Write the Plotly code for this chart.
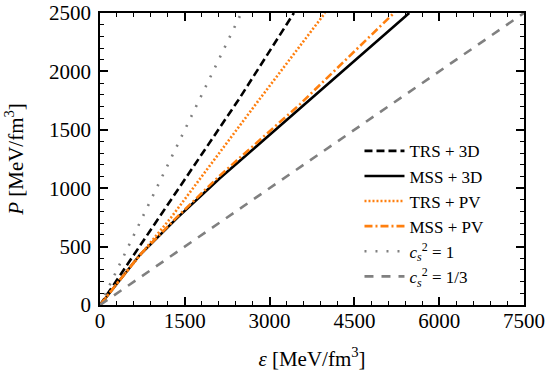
import plotly.graph_objects as go

# Data
eps_trs_3d = [0, 300, 1062, 2448, 3430]
p_trs_3d = [0, 215, 756, 1755, 2500]

eps_mss_3d = [0, 300, 703, 1357, 2124, 3540, 5470]
p_mss_3d = [0, 185, 428, 742, 1087, 1684, 2500]

eps_trs_pv = [0, 300, 1251, 2780, 3980]
p_trs_pv = [0, 185, 745, 1735, 2500]

eps_mss_pv = [0, 300, 703, 1357, 2124, 3540, 5200]
p_mss_pv = [0, 185, 428, 750, 1110, 1720, 2500]

eps_cs1 = [0, 2500]
p_cs1 = [0, 2500]

eps_cs13 = [0, 7500]
p_cs13 = [0, 2500]

x_ticks = [0, 1500, 3000, 4500, 6000, 7500]
y_ticks = [0, 500, 1000, 1500, 2000, 2500]

ORANGE = "#ff7f0e"
GRAY = "#808080"
FONT = "Liberation Serif"

fig = go.Figure()
fig.add_trace(go.Scatter(x=eps_trs_3d, y=p_trs_3d, mode="lines", name="TRS + 3D",
                         line=dict(color="black", width=2.6, dash="8px,4px")))
fig.add_trace(go.Scatter(x=eps_mss_3d, y=p_mss_3d, mode="lines", name="MSS + 3D",
                         line=dict(color="black", width=2.6)))
fig.add_trace(go.Scatter(x=eps_trs_pv, y=p_trs_pv, mode="lines", name="TRS + PV",
                         line=dict(color=ORANGE, width=2.6, dash="2px,2px")))
fig.add_trace(go.Scatter(x=eps_mss_pv, y=p_mss_pv, mode="lines", name="MSS + PV",
                         line=dict(color=ORANGE, width=2.6, dash="8px,3px,2px,3px")))
fig.add_trace(go.Scatter(x=eps_cs1, y=p_cs1, mode="lines",
                         name="<i>c</i><sub><i>s</i></sub><sup>2</sup> = 1",
                         line=dict(color=GRAY, width=2.6, dash="2px,9px")))
fig.add_trace(go.Scatter(x=eps_cs13, y=p_cs13, mode="lines",
                         name="<i>c</i><sub><i>s</i></sub><sup>2</sup> = 1/3",
                         line=dict(color=GRAY, width=2.6, dash="9px,8px")))

axis_common = dict(
    showgrid=False, zeroline=False, showline=True, linecolor="black", linewidth=1.8,
    mirror="allticks", ticks="inside", ticklen=8, tickwidth=1.6, tickcolor="black",
    tickfont=dict(family=FONT, size=21, color="black"), automargin=False,
    ticklabeloverflow="allow",
)

fig.update_xaxes(range=[0, 7500], tickvals=x_ticks, ticklabelstandoff=-4,
                 minor=dict(dtick=300, ticks="inside", ticklen=4, tickwidth=1, tickcolor="black"),
                 title=dict(text="<i>ε</i> [MeV/fm<sup>3</sup>]", standoff=19,
                            font=dict(family=FONT, size=21, color="black")),
                 **axis_common)
fig.update_yaxes(range=[0, 2500], tickvals=y_ticks, ticklabelstandoff=3,
                 minor=dict(dtick=100, ticks="inside", ticklen=4, tickwidth=1, tickcolor="black"),
                 title=dict(text="<i>P</i> [MeV/fm<sup>3</sup>]", standoff=20,
                            font=dict(family=FONT, size=21, color="black")),
                 **axis_common)

fig.update_layout(
    width=550, height=374,
    margin=dict(l=100, r=26, t=13, b=69, autoexpand=False),
    paper_bgcolor="white", plot_bgcolor="white",
    font=dict(family=FONT, color="black"),
    legend=dict(x=0.612, y=0.588, xanchor="left", yanchor="top",
                bgcolor="rgba(0,0,0,0)", borderwidth=0,
                font=dict(family=FONT, size=17, color="black"),
                itemwidth=40, tracegroupgap=0),
)

fig.write_html("out.html", config={"displayModeBar": False},
               post_script="document.body.style.margin='0';")
